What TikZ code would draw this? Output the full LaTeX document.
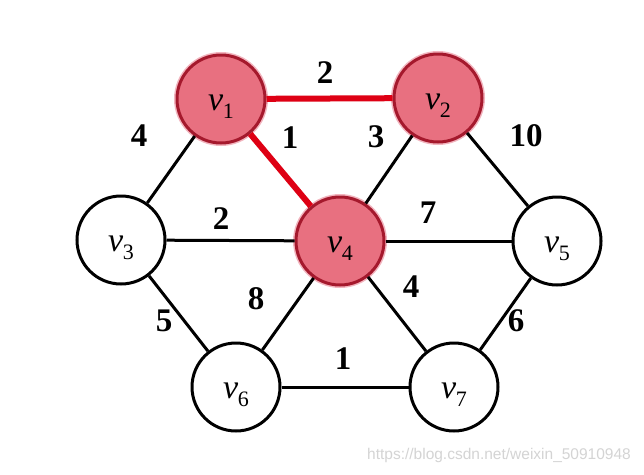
\documentclass[tikz,border=0pt]{standalone}
\usepackage{fontspec}
\setmainfont{Liberation Serif}
\newfontfamily\wmfont{Liberation Sans}
\definecolor{nodered}{RGB}{232,112,128}
\definecolor{borderred}{RGB}{165,25,45}
\definecolor{glowred}{RGB}{242,180,190}
\definecolor{edgered}{RGB}{222,0,20}
\definecolor{wmgray}{RGB}{212,212,212}
\newcommand{\vlab}[1]{{\itshape v}\kern-0.5pt\raisebox{-8pt}{\fontsize{22}{22}\selectfont #1}}
\begin{document}
\begin{tikzpicture}[x=1pt,y=-1pt,
  vert/.style={circle, draw=black, line width=3pt, fill=white, minimum size=88pt, inner sep=0pt},
  hot/.style={vert, draw=borderred, fill=nodered, preaction={draw=glowred, line width=6pt}},
  vtext/.style={font=\fontsize{34}{34}\selectfont, yshift=-8pt, inner sep=0pt},
  wt/.style={font=\fontsize{33}{33}\selectfont\bfseries, inner sep=0pt},
  edge/.style={line width=3pt, black},
  hedge/.style={line width=6pt, edgered}]
\useasboundingbox (0,0) rectangle (644,474);
\fill[white] (0,0) rectangle (644,474);
% vertices
\node[hot]  (v1) at (221,99)  {};
\node[hot]  (v2) at (438,98)  {};
\node[vert] (v3) at (121,240) {};
\node[hot]  (v4) at (340,241) {};
\node[vert] (v5) at (557,241) {};
\node[vert] (v6) at (236,387) {};
\node[vert] (v7) at (454,387) {};
\node[vtext] (t1) at (v1) {\vlab{1}};
\node[vtext] (t2) at (v2) {\vlab{2}};
\node[vtext] (t3) at (v3) {\vlab{3}};
\node[vtext] (t4) at (v4) {\vlab{4}};
\node[vtext] (t5) at (v5) {\vlab{5}};
\node[vtext] (t6) at (v6) {\vlab{6}};
\node[vtext] (t7) at (v7) {\vlab{7}};
% edges
\draw[hedge] (v1) -- (v2);
\draw[hedge] (v1) -- (v4);
\draw[edge] (v1) -- (v3);
\draw[edge] (v2) -- (v4);
\draw[edge] (v2) -- (v5);
\draw[edge] (v3) -- (v4);
\draw[edge] (v4) -- (v5);
\draw[edge] (v3) -- (v6);
\draw[edge] (v4) -- (v6);
\draw[edge] (v4) -- (v7);
\draw[edge] (v5) -- (v7);
\draw[edge] (v6) -- (v7);
% weights
\node[wt] (w12) at (325,73)  {2};
\node[wt] (w14) at (290,138) {1};
\node[wt] (w24) at (376,137) {3};
\node[wt] (w13) at (139,136) {4};
\node[wt] (w25) at (526,136) {10};
\node[wt] (w34) at (221,219) {2};
\node[wt] (w45) at (428,213) {7};
\node[wt] (w46) at (256,299) {8};
\node[wt] (w47) at (411,287) {4};
\node[wt] (w36) at (164,321) {5};
\node[wt] (w57) at (516,321) {6};
\node[wt] (w67) at (343,359) {1};
% watermark
\node[font=\wmfont\fontsize{15.5}{16}\selectfont, text=wmgray, inner sep=0pt] (wm) at (499,455) {https://blog.csdn.net/weixin\_50910948};
\end{tikzpicture}
\end{document}
